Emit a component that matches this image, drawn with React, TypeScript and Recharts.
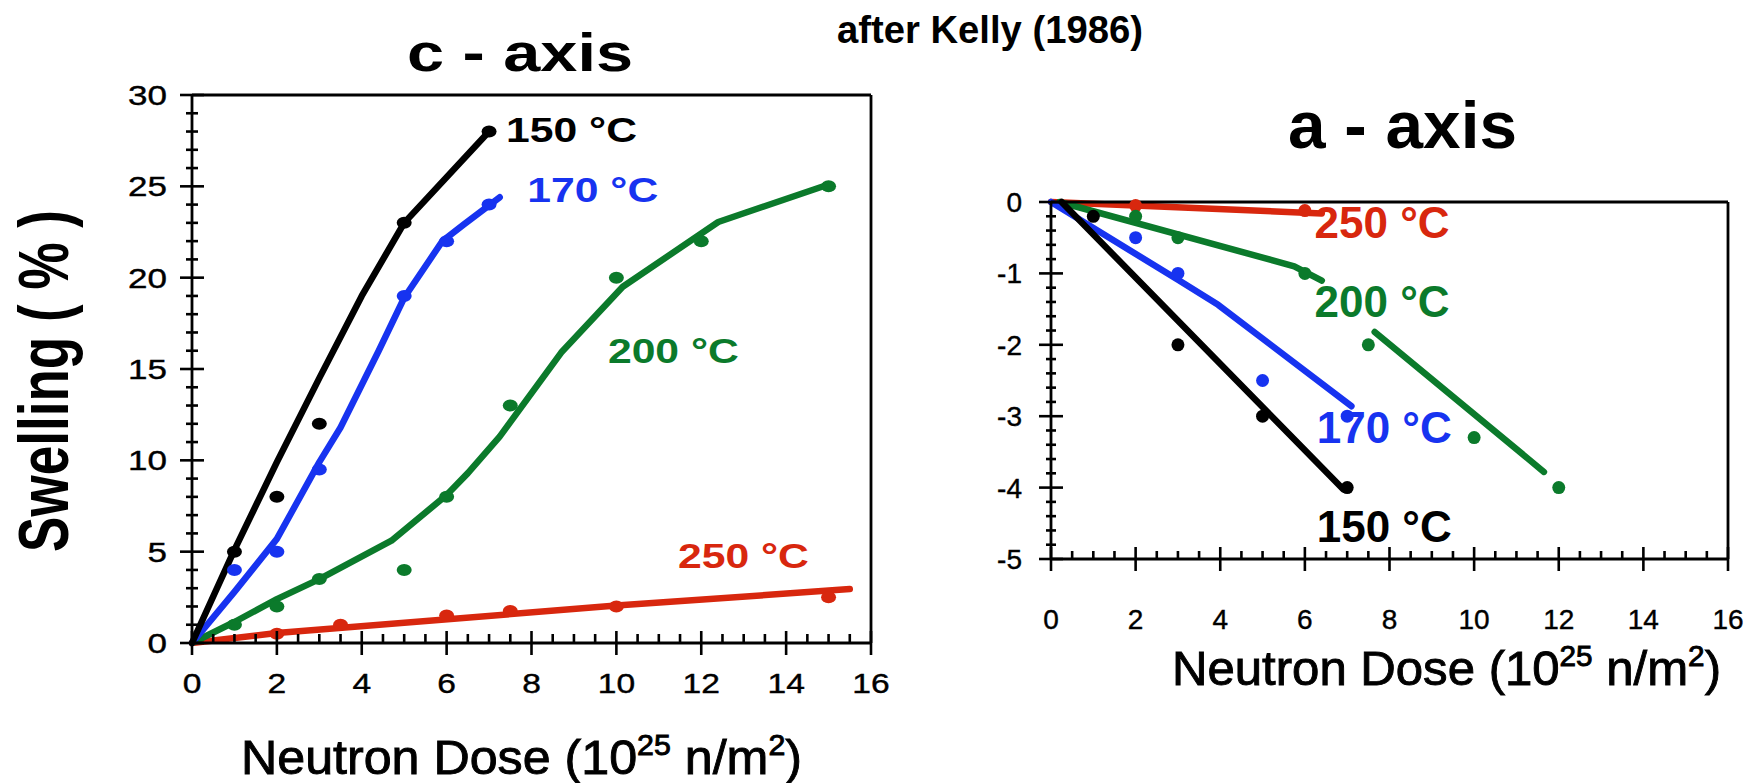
import React from "react";
import { ComposedChart, Line, Scatter, XAxis, YAxis } from "recharts";

type Pt = { x: number; y: number };

const FONT = "'Liberation Sans', Arial, Helvetica, sans-serif";
const BLACK = "#000000";
const BLUE = "#1733f0";
const GREEN = "#0b7a2b";
const RED = "#d8270e";

// tick positions
const steps = (from: number, to: number, step: number) => {
  const out: number[] = [];
  for (let v = from; v <= to + 1e-9; v += step) out.push(Math.round(v * 100) / 100);
  return out;
};
const DOSE_MAJOR = [0, 2, 4, 6, 8, 10, 12, 14, 16];
const DOSE_TICKS = steps(0, 16, 0.5);
const C_MAJOR = [0, 5, 10, 15, 20, 25, 30];
const C_TICKS = steps(0, 30, 1);
const A_MAJOR = [-5, -4, -3, -2, -1, 0];
const A_TICKS = steps(-5, 0, 0.2);

// c-axis: fitted curves
const c150Line: Pt[] = [
  { x: 0, y: 0 }, { x: 1, y: 5.1 }, { x: 2, y: 9.9 }, { x: 3, y: 14.5 },
  { x: 4, y: 19.0 }, { x: 5, y: 23 }, { x: 7, y: 28 },
];
const c170Line: Pt[] = [
  { x: 0, y: 0 }, { x: 1, y: 2.8 }, { x: 2, y: 5.7 }, { x: 3, y: 9.9 },
  { x: 3.5, y: 11.8 }, { x: 4.4, y: 16 }, { x: 5, y: 18.9 }, { x: 5.9, y: 22 },
  { x: 6.4, y: 22.9 }, { x: 7.25, y: 24.4 },
];
const c200Line: Pt[] = [
  { x: 0, y: 0 }, { x: 1, y: 1.15 }, { x: 2, y: 2.4 }, { x: 3, y: 3.5 },
  { x: 4.7, y: 5.6 }, { x: 6, y: 8.1 }, { x: 6.5, y: 9.3 }, { x: 7.25, y: 11.3 },
  { x: 8.7, y: 15.9 }, { x: 10.15, y: 19.5 }, { x: 12.4, y: 23.05 }, { x: 15, y: 25.1 },
];
const c250Line: Pt[] = [
  { x: 0, y: 0 }, { x: 2, y: 0.55 }, { x: 10, y: 2.05 }, { x: 15.5, y: 2.95 },
];

// c-axis: measured points
const c150Pts: Pt[] = [{ x: 1, y: 5 }, { x: 2, y: 8 }, { x: 3, y: 12 }, { x: 5, y: 23 }, { x: 7, y: 28 }];
const c170Pts: Pt[] = [{ x: 1, y: 4 }, { x: 2, y: 5 }, { x: 3, y: 9.5 }, { x: 5, y: 19 }, { x: 6, y: 22 }, { x: 7, y: 24 }];
const c200Pts: Pt[] = [
  { x: 1, y: 1 }, { x: 2, y: 2 }, { x: 3, y: 3.5 }, { x: 5, y: 4 }, { x: 6, y: 8 },
  { x: 7.5, y: 13 }, { x: 10, y: 20 }, { x: 12, y: 22 }, { x: 15, y: 25 },
];
const c250Pts: Pt[] = [
  { x: 2, y: 0.5 }, { x: 3.5, y: 1 }, { x: 6, y: 1.5 }, { x: 7.5, y: 1.75 }, { x: 10, y: 2 }, { x: 15, y: 2.5 },
];

// a-axis: fitted curves
const a150Line: Pt[] = [{ x: 0.25, y: 0 }, { x: 6.9, y: -4.02 }];
const a170Line: Pt[] = [{ x: 0, y: 0 }, { x: 3, y: -1.09 }, { x: 3.95, y: -1.44 }, { x: 7.1, y: -2.86 }];
const a200LineA: Pt[] = [{ x: 0.2, y: 0 }, { x: 5.75, y: -0.9 }, { x: 6.4, y: -1.1 }];
const a200LineB: Pt[] = [{ x: 7.65, y: -1.82 }, { x: 11.65, y: -3.78 }];
const a250Line: Pt[] = [{ x: 0, y: 0 }, { x: 6.4, y: -0.16 }];

// a-axis: measured points
const a150Pts: Pt[] = [{ x: 1, y: -0.2 }, { x: 3, y: -2 }, { x: 5, y: -3 }, { x: 7, y: -4 }];
const a170Pts: Pt[] = [{ x: 2, y: -0.5 }, { x: 3, y: -1 }, { x: 5, y: -2.5 }, { x: 7, y: -3 }];
const a200Pts: Pt[] = [{ x: 2, y: -0.2 }, { x: 3, y: -0.5 }, { x: 6, y: -1 }, { x: 7.5, y: -2 }, { x: 10, y: -3.3 }, { x: 12, y: -4 }];
const a250Pts: Pt[] = [{ x: 2, y: -0.05 }, { x: 6, y: -0.12 }];

// series labels (anchor = left end of text baseline, in data units)
const cLabels = [
  { text: "150 °C", x: 7.4, y: 27.4, color: BLACK },
  { text: "170 °C", x: 7.9, y: 24.15, color: BLUE },
  { text: "200 °C", x: 9.8, y: 15.35, color: GREEN },
  { text: "250 °C", x: 11.45, y: 4.1, color: RED },
];
const aLabels = [
  { text: "250 °C", x: 6.23, y: -0.5, color: RED },
  { text: "200 °C", x: 6.23, y: -1.61, color: GREEN },
  { text: "170 °C", x: 6.28, y: -3.38, color: BLUE },
  { text: "150 °C", x: 6.28, y: -4.76, color: BLACK },
];

type Side = "bottom" | "top" | "left" | "right";

function makeTick(side: Side, major: number[], o: { label?: boolean; gap?: number; size?: number; sx?: number; minorIn: number; minorOut: number }) {
  return (props: any) => {
    const { x, y, payload } = props;
    const v = payload.value as number;
    const isMajor = major.some((m) => Math.abs(m - v) < 1e-6);
    const inL = isMajor ? 12 : o.minorIn;
    const outL = isMajor ? 12 : o.minorOut;
    let line;
    if (side === "bottom") line = <line x1={x} x2={x} y1={y - inL} y2={y + outL} />;
    else if (side === "top") line = <line x1={x} x2={x} y1={y - outL} y2={y + inL} />;
    else if (side === "left") line = <line x1={x - outL} x2={x + inL} y1={y} y2={y} />;
    else line = <line x1={x - inL} x2={x + outL} y1={y} y2={y} />;
    let label = null;
    if (o.label && isMajor) {
      const sx = o.sx ?? 1;
      if (side === "bottom") {
        label = (
          <text transform={`translate(${x},${y + (o.gap ?? 0)}) scale(${sx},1)`} textAnchor="middle"
            fontSize={o.size} fontFamily={FONT} fill="#000" stroke="#000" strokeWidth={0.4}>{String(v)}</text>
        );
      } else {
        label = (
          <text transform={`translate(${x - (o.gap ?? 0)},${y}) scale(${sx},1)`} textAnchor="end" dy="0.36em"
            fontSize={o.size} fontFamily={FONT} fill="#000" stroke="#000" strokeWidth={0.4}>{String(v)}</text>
        );
      }
    }
    return (
      <g>
        <g stroke="#000" strokeWidth={2.6}>{line}</g>
        {label}
      </g>
    );
  };
}

const ellipseDot = (color: string) => (p: any) => (
  <ellipse cx={p.cx} cy={p.cy} rx={7.5} ry={6} fill={color} />
);
const circleDot = (color: string) => (p: any) => <circle cx={p.cx} cy={p.cy} r={6.5} fill={color} />;

const labelShape = (text: string, color: string, size: number, sx: number) => (p: any) => (
  <text transform={`translate(${p.cx},${p.cy}) scale(${sx},1)`} fontSize={size} fontWeight="bold"
    fontFamily={FONT} fill={color}>{text}</text>
);

const axisLine = { stroke: "#000", strokeWidth: 2.8 };

function curve(id: string, data: Pt[], color: string) {
  return (
    <Line key={id} data={data} dataKey="y" type="linear" stroke={color} strokeWidth={6.5}
      strokeLinejoin="round" strokeLinecap="round" dot={false} isAnimationActive={false} />
  );
}

function CAxisChart() {
  return (
    <ComposedChart width={900} height={783} margin={{ top: 85, right: 19, bottom: 80, left: 0 }}>
      <XAxis dataKey="x" type="number" domain={[0, 16]} ticks={DOSE_TICKS} interval={0} height={60}
        tickSize={0} tickMargin={0} axisLine={axisLine} tickLine={false}
        tick={makeTick("bottom", DOSE_MAJOR, { label: true, gap: 50, size: 28, sx: 1.2, minorIn: 9, minorOut: 0 })} />
      <XAxis xAxisId="top" orientation="top" type="number" domain={[0, 16]} ticks={DOSE_TICKS} interval={0} height={10}
        tickSize={0} tickMargin={0} axisLine={axisLine} tickLine={false}
        tick={makeTick("top", DOSE_MAJOR, { minorIn: 8, minorOut: 0 })} />
      <YAxis dataKey="y" type="number" domain={[0, 30]} ticks={C_TICKS} interval={0} width={192}
        tickSize={0} tickMargin={0} axisLine={axisLine} tickLine={false}
        tick={makeTick("left", C_MAJOR, { label: true, gap: 25, size: 28, sx: 1.25, minorIn: 6, minorOut: 6 })} />
      <YAxis yAxisId="right" orientation="right" type="number" domain={[0, 30]} ticks={C_TICKS} interval={0} width={10}
        tickSize={0} tickMargin={0} axisLine={axisLine} tickLine={false}
        tick={makeTick("right", C_MAJOR, { minorIn: 8, minorOut: 0 })} />
      {curve("c250", c250Line, RED)}
      {curve("c200", c200Line, GREEN)}
      {curve("c170", c170Line, BLUE)}
      {curve("c150", c150Line, BLACK)}
      <Scatter data={c250Pts} shape={ellipseDot(RED)} isAnimationActive={false} />
      <Scatter data={c200Pts} shape={ellipseDot(GREEN)} isAnimationActive={false} />
      <Scatter data={c170Pts} shape={ellipseDot(BLUE)} isAnimationActive={false} />
      <Scatter data={c150Pts} shape={ellipseDot(BLACK)} isAnimationActive={false} />
      {cLabels.map((l) => (
        <Scatter key={l.text} data={[{ x: l.x, y: l.y }]} shape={labelShape(l.text, l.color, 35, 1.22)} isAnimationActive={false} />
      ))}
    </ComposedChart>
  );
}

function AAxisChart() {
  return (
    <ComposedChart width={858} height={783} margin={{ top: 192, right: 20, bottom: 164, left: 0 }}>
      <XAxis dataKey="x" type="number" domain={[0, 16]} ticks={DOSE_TICKS} interval={0} height={60}
        tickSize={0} tickMargin={0} axisLine={axisLine} tickLine={false}
        tick={makeTick("bottom", DOSE_MAJOR, { label: true, gap: 70, size: 28, sx: 1, minorIn: 8, minorOut: 0 })} />
      <XAxis xAxisId="top" orientation="top" type="number" domain={[0, 16]} ticks={DOSE_TICKS} interval={0} height={10}
        tickSize={0} tickMargin={0} axisLine={axisLine} tickLine={false}
        tick={makeTick("top", DOSE_MAJOR, { minorIn: 7, minorOut: 0 })} />
      <YAxis dataKey="y" type="number" domain={[-5, 0]} ticks={A_TICKS} interval={0} width={151}
        tickSize={0} tickMargin={0} axisLine={axisLine} tickLine={false}
        tick={makeTick("left", A_MAJOR, { label: true, gap: 29, size: 28, sx: 1, minorIn: 5, minorOut: 5 })} />
      <YAxis yAxisId="right" orientation="right" type="number" domain={[-5, 0]} ticks={A_TICKS} interval={0} width={10}
        tickSize={0} tickMargin={0} axisLine={axisLine} tickLine={false}
        tick={makeTick("right", A_MAJOR, { minorIn: 6, minorOut: 6 })} />
      {curve("a250", a250Line, RED)}
      {curve("a200a", a200LineA, GREEN)}
      {curve("a200b", a200LineB, GREEN)}
      {curve("a170", a170Line, BLUE)}
      {curve("a150", a150Line, BLACK)}
      <Scatter data={a250Pts} shape={circleDot(RED)} isAnimationActive={false} />
      <Scatter data={a200Pts} shape={circleDot(GREEN)} isAnimationActive={false} />
      <Scatter data={a170Pts} shape={circleDot(BLUE)} isAnimationActive={false} />
      <Scatter data={a150Pts} shape={circleDot(BLACK)} isAnimationActive={false} />
      {aLabels.map((l) => (
        <Scatter key={l.text} data={[{ x: l.x, y: l.y }]} shape={labelShape(l.text, l.color, 44, 1)} isAnimationActive={false} />
      ))}
    </ComposedChart>
  );
}

function Titles() {
  const doseLabel = (x: number, y: number, len: number) => (
    <text x={x} y={y} fontSize={48} fontFamily={FONT} fill="#000" stroke="#000" strokeWidth={0.9}
      textLength={len} lengthAdjust="spacingAndGlyphs">
      Neutron Dose (10<tspan fontSize={29} dy={-19}>25</tspan><tspan dy={19}> n/m</tspan>
      <tspan fontSize={29} dy={-19}>2</tspan><tspan dy={19}>)</tspan>
    </text>
  );
  return (
    <svg width={1758} height={783} style={{ position: "absolute", left: 0, top: 0, pointerEvents: "none" }}>
      <text x={837} y={43} fontSize={38} fontWeight="bold" fontFamily={FONT} textLength={306} lengthAdjust="spacingAndGlyphs">
        after Kelly (1986)
      </text>
      <text x={407} y={71} fontSize={54} fontWeight="bold" fontFamily={FONT} textLength={226} lengthAdjust="spacingAndGlyphs">
        c - axis
      </text>
      <text x={1288} y={148} fontSize={67} fontWeight="bold" fontFamily={FONT} textLength={229} lengthAdjust="spacingAndGlyphs">
        a - axis
      </text>
      <text transform="translate(68,552) rotate(-90)" fontSize={70} fontWeight="bold" fontFamily={FONT}
        textLength={342} lengthAdjust="spacingAndGlyphs">
        Swelling ( % )
      </text>
      {doseLabel(241, 774, 561)}
      {doseLabel(1172, 685, 549)}
    </svg>
  );
}

export default function App() {
  return (
    <div style={{ position: "absolute", left: 0, top: 0, width: 1758, height: 783, background: "#fff", overflow: "hidden" }}>
      <div style={{ position: "absolute", left: 0, top: 0 }}>
        <CAxisChart />
      </div>
      <div style={{ position: "absolute", left: 900, top: 0 }}>
        <AAxisChart />
      </div>
      <Titles />
    </div>
  );
}
